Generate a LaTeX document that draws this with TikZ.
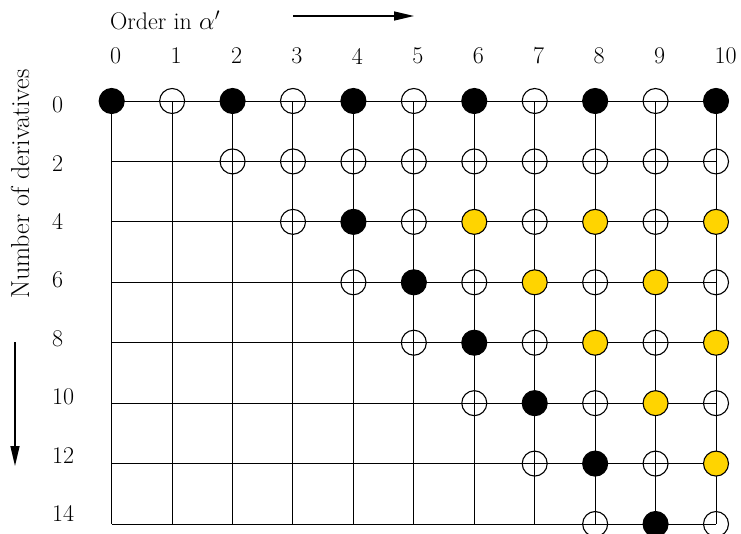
\documentclass[tikz,border=0pt]{standalone}
\usepackage{tikz}
\usetikzlibrary{arrows.meta}
\definecolor{gold}{RGB}{255,212,0}
\begin{document}
\begin{tikzpicture}[x=1pt,y=-1pt, font=\fontsize{24}{28}\selectfont,
  gridline/.style={line width=1pt},
  dot/.style={circle, minimum size=25pt, inner sep=0pt, line width=1.1pt, draw=black},
  blk/.style={dot, fill=black},
  opn/.style={dot},
  yel/.style={dot, fill=gold},
  lbl/.style={inner sep=0pt},
  axarrow/.style={line width=1.4pt, -{Triangle[length=20pt,width=9pt]}}]
\useasboundingbox (0,0) rectangle (741,533);
\foreach \c in {0,...,10}
  \foreach \r in {0,...,7}
    \coordinate (g-\c-\r) at ({111.7+60.43*\c},{101+60.43*\r});
\foreach \r in {0,...,7} \draw[gridline] (g-0-\r) -- (g-10-\r);
\foreach \c in {0,...,10} \draw[gridline] (g-\c-0) -- (g-\c-7);
% row 0
\foreach \c in {0,2,4,6,8,10} \node[blk] (d-\c-0) at (g-\c-0) {};
\foreach \c in {1,3,5,7,9} \node[opn] (d-\c-0) at (g-\c-0) {};
% row 2
\foreach \c in {2,...,10} \node[opn] (d-\c-1) at (g-\c-1) {};
% rows 4..14
\foreach \r/\f in {2/4,3/5,4/6,5/7,6/8,7/9} {
  \pgfmathtruncatemacro{\a}{\f-1}
  \pgfmathtruncatemacro{\b}{\f+1}
  \node[opn] (d-\a-\r) at (g-\a-\r) {};
  \node[blk] (d-\f-\r) at (g-\f-\r) {};
  \ifnum\b<11 \node[opn] (d-\b-\r) at (g-\b-\r) {};\fi
}
\foreach \c/\r in {6/2,8/2,10/2,7/3,9/3,8/4,10/4,9/5,10/6}
  \node[yel] (y-\c-\r) at (g-\c-\r) {};
\foreach \c/\r in {7/2,9/2,8/3,10/3,9/4,10/5}
  \node[opn] (o-\c-\r) at (g-\c-\r) {};
% labels
\foreach \c in {0,...,10}
  \node[lbl, anchor=west] (cl-\c) at ({110+60.43*\c},56) {\c};
\foreach \k in {0,...,7} {
  \pgfmathtruncatemacro{\n}{2*\k}
  \node[lbl, anchor=west] (rl-\k) at (52,{105+58.4*\k}) {\n};
}
\node[lbl, anchor=west] (title) at (110,20) {Order in $\alpha'$};
\coordinate (ha) at (293,16);
\coordinate (hb) at (414,16);
\draw[axarrow] (ha) -- (hb);
\node[lbl, rotate=90, font=\fontsize{26}{30}\selectfont] (vtitle) at (20,184) {Number of derivatives};
\coordinate (va) at (15,342);
\coordinate (vb) at (15,466);
\draw[axarrow] (va) -- (vb);
\end{tikzpicture}
\end{document}
